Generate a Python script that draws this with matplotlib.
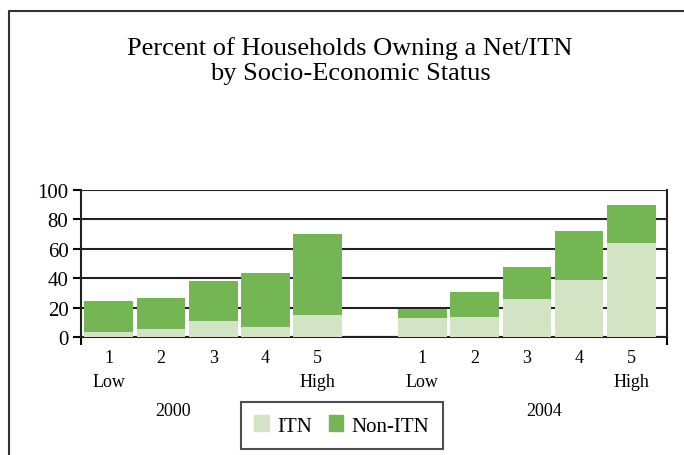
import matplotlib
matplotlib.use('Agg')
import matplotlib.pyplot as plt
from matplotlib.lines import Line2D
from matplotlib.patches import Patch

plt.rcParams['font.family'] = ['Liberation Serif', 'DejaVu Serif']

# data
years = ['2000', '2004']
quintiles = ['1', '2', '3', '4', '5']
quintile_notes = ['Low', '', '', '', 'High']
itn_2000 = [4, 6, 11, 7, 15]
non_itn_2000 = [21, 21, 27, 37, 55]
itn_2004 = [13, 14, 26, 39, 64]
non_itn_2004 = [6, 17, 22, 33, 26]

light_green = '#d3e4c5'
dark_green = '#74b554'

fig = plt.figure(figsize=(6.84, 4.56), dpi=100)
ax = fig.add_axes([0.1184, 0.2577, 0.8567, 0.3235])

# positions: one empty slot between the two survey years
pos_2000 = list(range(0, 5))
pos_2004 = list(range(6, 11))
bar_w = 0.93

ax.bar(pos_2000, itn_2000, width=bar_w, color=light_green, zorder=3)
ax.bar(pos_2000, non_itn_2000, width=bar_w, bottom=itn_2000, color=dark_green, zorder=3)
ax.bar(pos_2004, itn_2004, width=bar_w, color=light_green, zorder=3)
ax.bar(pos_2004, non_itn_2004, width=bar_w, bottom=itn_2004, color=dark_green, zorder=3)

ax.set_xlim(-0.53, 10.68)
ax.set_ylim(0, 100)
ax.set_yticks([0, 20, 40, 60, 80, 100])
ax.yaxis.grid(True, color='#222222', linewidth=1.5, zorder=1)
ax.set_axisbelow(True)

labels = [f'{q}\n{n}' for q, n in zip(quintiles, quintile_notes)]
ax.set_xticks(pos_2000 + pos_2004)
ax.set_xticklabels(labels * 2, linespacing=1.55)
ax.tick_params(axis='x', length=0, pad=8, labelsize=13)
ax.tick_params(axis='y', length=6, width=1.5, direction='out', pad=3, labelsize=15)

# small end ticks below the x axis
ax.set_xticks([-0.53, 10.68], minor=True)
ax.tick_params(axis='x', which='minor', length=6, width=1.5, direction='out')

for side in ['left', 'right', 'bottom']:
    ax.spines[side].set_linewidth(1.5)
    ax.spines[side].set_color('#222222')
ax.spines['top'].set_visible(False)

# survey year labels
fig.text(173 / 684, 1 - 412 / 456, years[0], ha='center', va='center', fontsize=13)
fig.text(544 / 684, 1 - 412 / 456, years[1], ha='center', va='center', fontsize=13)

fig.text(0.512, 1 - 61 / 456, 'Percent of Households Owning a Net/ITN\nby Socio-Economic Status',
         ha='center', va='center', fontsize=19, linespacing=1.2)

handles = [Patch(color=light_green, label='ITN'), Patch(color=dark_green, label='Non-ITN')]
leg = fig.legend(handles=handles, loc='center', bbox_to_anchor=(342 / 684, 1 - 426.5 / 456),
                 ncol=2, fontsize=15, frameon=True, fancybox=False, handlelength=0.7,
                 handleheight=0.8, handletextpad=0.4, columnspacing=0.8, borderpad=0.65,
                 borderaxespad=0)
leg.get_frame().set_edgecolor('#222222')
leg.get_frame().set_linewidth(1.5)

# outer frame, cut off at the bottom and right like the source
fx = 9.3 / 684
fy = 1 - 12.3 / 456
fig.add_artist(Line2D([fx, fx, 1.0], [0.0, fy, fy], transform=fig.transFigure,
                      color='#333333', linewidth=1.5))

fig.savefig('out.png', dpi=100)
